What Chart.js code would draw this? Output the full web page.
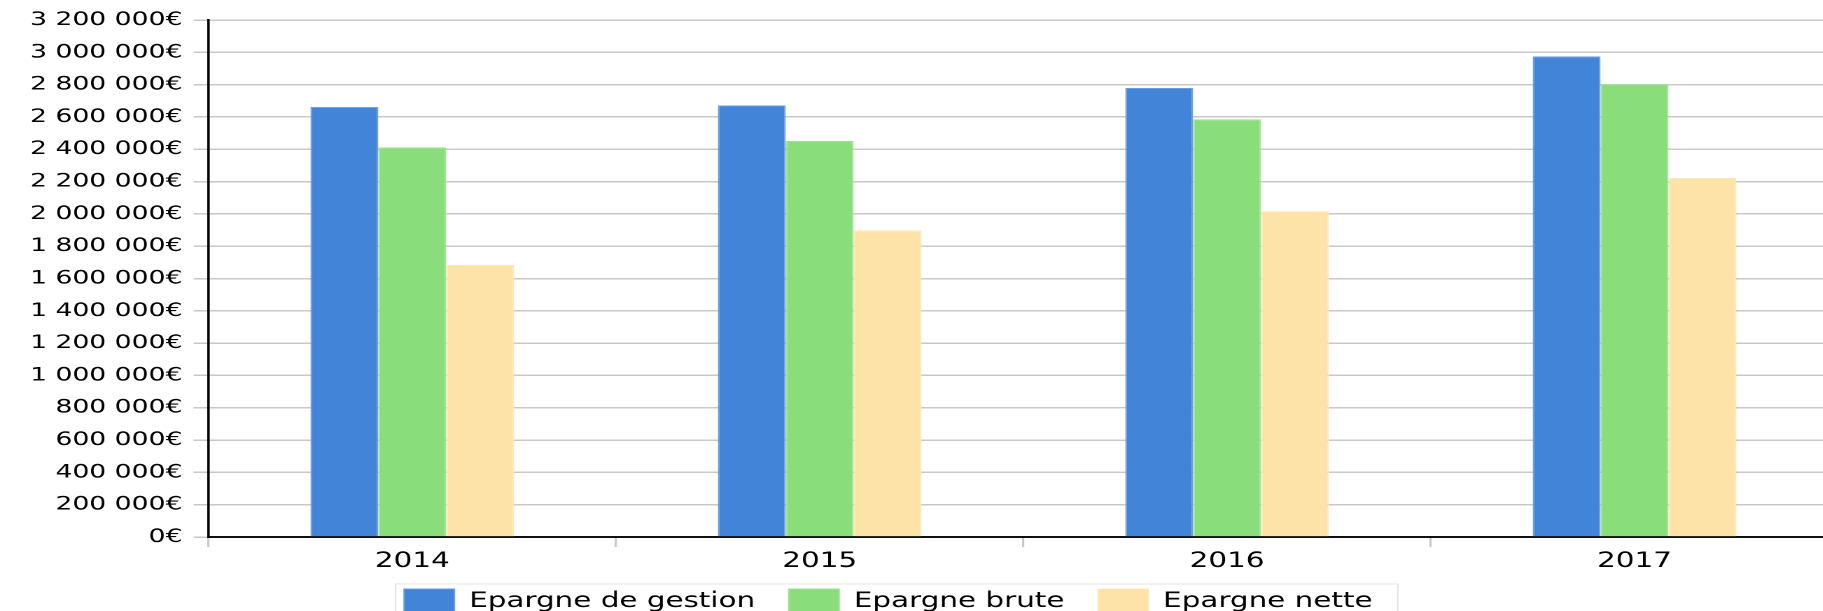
<!DOCTYPE html>
<html>
<head>
<meta charset="utf-8">
<title>Epargne</title>
<script src="https://cdn.jsdelivr.net/npm/chart.js"></script>
<style>
    html, body { margin: 0; padding: 0; background: #fff; overflow: hidden; }
    body { width: 1823px; height: 611px; }
    /* the reference is stretched horizontally, so the chart is drawn narrow and stretched */
    #wrap { width: 1313px; height: 631px; transform: scaleX(1.4); transform-origin: 0 0; }
</style>
</head>
<body>
<div id="wrap"><canvas id="myChart"></canvas></div>
<script>
    const years = ['2014', '2015', '2016', '2017'];
    const seriesNames = ['Epargne de gestion', 'Epargne brute', 'Epargne nette'];
    const epargneGestion = [2662000, 2671000, 2779000, 2975000];
    const epargneBrute = [2412000, 2451000, 2586000, 2802000];
    const epargneNette = [1684000, 1899000, 2017000, 2223000];
    const yMax = 3200000;
    const yStep = 200000;

    const fillColors = ['#4284d8', '#89de7b', '#fde3a8'];
    const edgeColors = ['#6a9de0', '#9ee491', '#fde8b8'];
    const legendStart = { x: 288.6, y: 589 };

    function euros(value) {
        return String(value).replace(/\B(?=(\d{3})+(?!\d))/g, ' ') + '€';
    }

    // the legend sits a little left of centre, tucked under the labels, with a light frame
    const legendFrame = {
        id: 'legendFrame',
        afterUpdate(chart) {
            const lg = chart.legend;
            const boxes = lg.legendHitBoxes;
            if (!boxes || !boxes.length) return;
            const dx = boxes[0].left - legendStart.x;
            const dy = boxes[0].top - legendStart.y;
            lg.left -= dx;
            lg.right -= dx;
            lg.top -= dy;
            lg.bottom -= dy;
            boxes.forEach(b => { b.left -= dx; b.top -= dy; });
        },
        afterDraw(chart) {
            const boxes = chart.legend.legendHitBoxes;
            if (!boxes || !boxes.length) return;
            const last = boxes[boxes.length - 1];
            const x0 = boxes[0].left - 6;
            const ctx = chart.ctx;
            ctx.save();
            ctx.strokeStyle = '#e4e4e4';
            ctx.lineWidth = 1;
            ctx.strokeRect(x0, boxes[0].top - 5, last.left + last.width + 18 - x0, chart.height);
            ctx.restore();
        }
    };

    const ctx = document.getElementById('myChart').getContext('2d');
    new Chart(ctx, {
        type: 'bar',
        data: {
            labels: years,
            datasets: [epargneGestion, epargneBrute, epargneNette].map((values, i) => ({
                label: seriesNames[i],
                data: values,
                backgroundColor: fillColors[i],
                borderColor: edgeColors[i],
                borderWidth: 1,
                categoryPercentage: 0.5,
                barPercentage: 1.0,
            })),
        },
        options: {
            responsive: true,
            maintainAspectRatio: false,
            animation: false,
            devicePixelRatio: 2,
            layout: { padding: { top: 20, left: 13.5, right: 0, bottom: 0 } },
            plugins: {
                tooltip: { enabled: false },
                legend: {
                    position: 'bottom',
                    labels: {
                        boxWidth: 36,
                        boxHeight: 25,
                        padding: 24,
                        color: '#000',
                        font: { family: 'DejaVu Sans', size: 21 },
                    },
                },
            },
            scales: {
                x: {
                    grid: {
                        drawOnChartArea: false,
                        drawTicks: true,
                        tickLength: 10,
                        color: '#c8c8c8',
                        lineWidth: 1.6,
                    },
                    border: { color: '#111', width: 2 },
                    ticks: {
                        color: '#000',
                        padding: 2,
                        font: { family: 'DejaVu Sans', size: 21 },
                    },
                    afterFit(axis) {
                        axis.height = 35;
                    },
                },
                y: {
                    min: 0,
                    max: yMax,
                    grid: {
                        color: '#c8c8c8',
                        lineWidth: 1.5,
                        tickLength: 10.7,
                    },
                    border: { color: '#000', width: 1.8 },
                    ticks: {
                        stepSize: yStep,
                        color: '#000',
                        padding: 8,
                        font: { family: 'DejaVu Sans', size: 19 },
                        callback: (value) => euros(value),
                    },
                },
            },
        },
        plugins: [legendFrame],
    });
</script>
</body>
</html>
